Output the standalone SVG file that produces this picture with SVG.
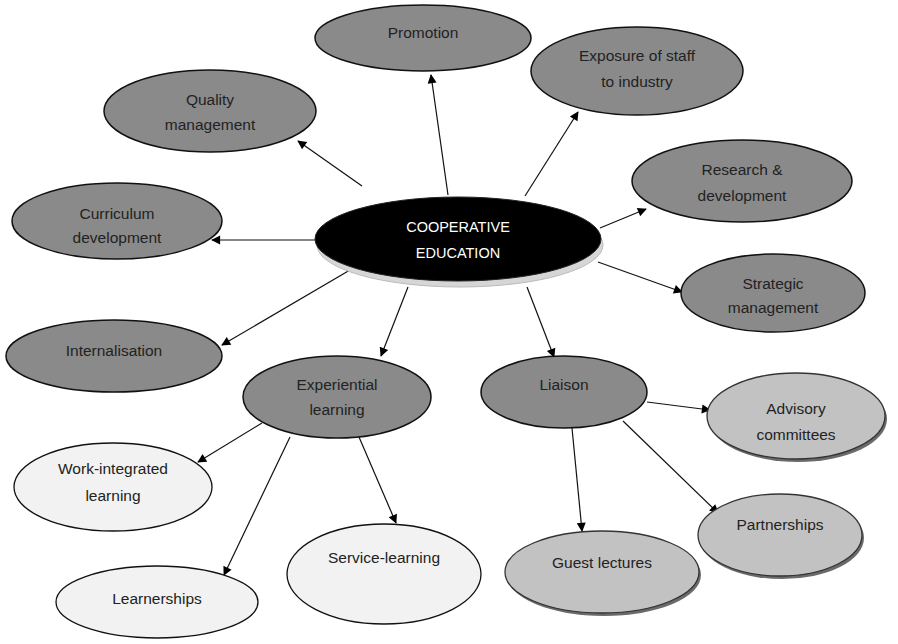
<svg xmlns="http://www.w3.org/2000/svg" width="898" height="644" viewBox="0 0 898 644">
<defs>
<marker id="ah" viewBox="0 0 10 10" refX="9" refY="5" markerWidth="10" markerHeight="9" orient="auto" markerUnits="userSpaceOnUse" overflow="visible">
<path d="M0,0 L10,5 L0,10 Z" fill="#000"/>
</marker>
<style>
.dark{fill:#8a8a8a;stroke:#111;stroke-width:1.5}
.mid{fill:#c2c2c2;stroke:#333;stroke-width:1.3}
.light{fill:#f2f2f2;stroke:#111;stroke-width:1.3}
.sh{fill:#6a6a6a}
.t{font-family:"Liberation Sans",Arial,sans-serif;font-size:15.5px;fill:#222;text-anchor:middle}
.w{font-family:"Liberation Sans",Arial,sans-serif;font-size:14.5px;fill:#fff;text-anchor:middle}
.c{stroke:#111;stroke-width:1.2;fill:none;marker-end:url(#ah)}
</style>
</defs>
<rect width="898" height="644" fill="#fff"/>
<g id="connectors">
<line class="c" x1="448" y1="195" x2="431" y2="75"/>
<line class="c" x1="525" y1="196" x2="578" y2="112"/>
<line class="c" x1="362" y1="186" x2="298" y2="141"/>
<line class="c" x1="600" y1="228" x2="646" y2="209"/>
<line class="c" x1="315" y1="240" x2="212" y2="240"/>
<line class="c" x1="598" y1="262" x2="682" y2="292"/>
<line class="c" x1="350" y1="270" x2="222" y2="345"/>
<line class="c" x1="408" y1="287" x2="381" y2="356"/>
<line class="c" x1="527" y1="287" x2="554" y2="357"/>
<line class="c" x1="262" y1="423" x2="198" y2="462"/>
<line class="c" x1="290" y1="437" x2="224" y2="575"/>
<line class="c" x1="359" y1="437" x2="396" y2="523"/>
<line class="c" x1="572" y1="428" x2="582" y2="531"/>
<line class="c" x1="647" y1="402" x2="710" y2="410"/>
<line class="c" x1="623" y1="421" x2="718" y2="513"/>
</g>
<g id="cooperative-education">
<ellipse cx="460" cy="245" rx="143" ry="42" fill="#d6d6d6" stroke="#bbb" stroke-width="1"/>
<ellipse cx="458" cy="239" rx="143" ry="42" fill="#000" stroke="#222" stroke-width="1"/>
<text class="w" x="458" y="232">COOPERATIVE</text>
<text class="w" x="458" y="258">EDUCATION</text>
</g>
<g id="promotion">
<ellipse class="dark" cx="423" cy="38" rx="108" ry="33"/>
<text class="t" x="423" y="38">Promotion</text>
</g>
<g id="exposure">
<ellipse class="dark" cx="637" cy="71" rx="106" ry="44"/>
<text class="t" x="637" y="61">Exposure of staff</text>
<text class="t" x="637" y="87">to industry</text>
</g>
<g id="quality">
<ellipse class="dark" cx="210" cy="111" rx="106" ry="41"/>
<text class="t" x="210" y="105">Quality</text>
<text class="t" x="210" y="130">management</text>
</g>
<g id="research">
<ellipse class="dark" cx="742" cy="181" rx="110" ry="41"/>
<text class="t" x="742" y="175">Research &amp;</text>
<text class="t" x="742" y="201">development</text>
</g>
<g id="curriculum">
<ellipse class="dark" cx="117" cy="221" rx="105" ry="38"/>
<text class="t" x="117" y="219">Curriculum</text>
<text class="t" x="117" y="243">development</text>
</g>
<g id="strategic">
<ellipse class="dark" cx="773" cy="293" rx="92" ry="39"/>
<text class="t" x="773" y="289">Strategic</text>
<text class="t" x="773" y="313">management</text>
</g>
<g id="internalisation">
<ellipse class="dark" cx="114" cy="356" rx="108" ry="36"/>
<text class="t" x="114" y="356">Internalisation</text>
</g>
<g id="experiential">
<ellipse class="dark" cx="337" cy="397" rx="94" ry="41"/>
<text class="t" x="337" y="390">Experiential</text>
<text class="t" x="337" y="415">learning</text>
</g>
<g id="liaison">
<ellipse class="dark" cx="564" cy="392" rx="83" ry="36"/>
<text class="t" x="564" y="390">Liaison</text>
</g>
<g id="advisory">
<ellipse class="sh" cx="798" cy="419" rx="89" ry="43"/>
<ellipse class="mid" cx="796" cy="416" rx="89" ry="43"/>
<text class="t" x="796" y="414">Advisory</text>
<text class="t" x="796" y="440">committees</text>
</g>
<g id="work-integrated">
<ellipse class="light" cx="113" cy="487" rx="99" ry="44"/>
<text class="t" x="113" y="474">Work-integrated</text>
<text class="t" x="113" y="501">learning</text>
</g>
<g id="learnerships">
<ellipse class="light" cx="157" cy="602" rx="101" ry="36"/>
<text class="t" x="157" y="604">Learnerships</text>
</g>
<g id="service-learning">
<ellipse class="light" cx="384" cy="574" rx="97" ry="50"/>
<text class="t" x="384" y="563">Service-learning</text>
</g>
<g id="guest-lectures">
<ellipse class="sh" cx="604" cy="575" rx="97" ry="41"/>
<ellipse class="mid" cx="602" cy="572" rx="97" ry="41"/>
<text class="t" x="602" y="568">Guest lectures</text>
</g>
<g id="partnerships">
<ellipse class="sh" cx="782" cy="538" rx="82" ry="41"/>
<ellipse class="mid" cx="780" cy="535" rx="82" ry="41"/>
<text class="t" x="780" y="530">Partnerships</text>
</g>
</svg>
